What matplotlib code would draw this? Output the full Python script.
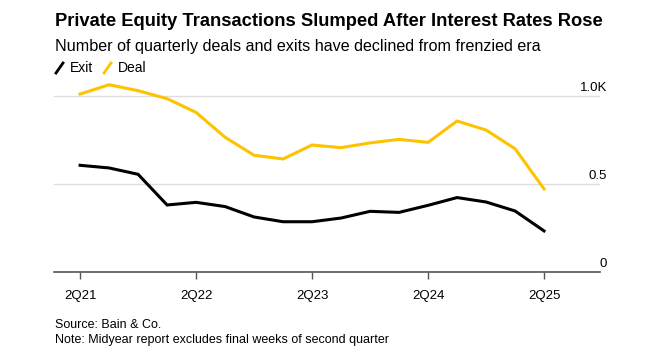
import matplotlib
matplotlib.use("Agg")
import matplotlib.pyplot as plt
from matplotlib.lines import Line2D
from matplotlib.transforms import blended_transform_factory

quarters = ["2Q21", "3Q21", "4Q21", "1Q22", "2Q22", "3Q22", "4Q22", "1Q23", "2Q23",
            "3Q23", "4Q23", "1Q24", "2Q24", "3Q24", "4Q24", "1Q25", "2Q25"]
deal = [1.009, 1.062, 1.028, 0.983, 0.905, 0.764, 0.662, 0.641, 0.720, 0.705, 0.732,
        0.752, 0.735, 0.856, 0.805, 0.699, 0.471]
exit_ = [0.605, 0.590, 0.554, 0.380, 0.395, 0.371, 0.312, 0.285, 0.285, 0.306, 0.344,
         0.338, 0.378, 0.422, 0.397, 0.346, 0.233]
xtick_labels = ["2Q21", "2Q22", "2Q23", "2Q24", "2Q25"]
ytick_vals = [0, 0.5, 1.0]
ytick_labels = ["0", "0.5", "1.0K"]

plt.rcParams['font.family'] = ['Liberation Sans', 'DejaVu Sans']

W, H = 669, 359
fig = plt.figure(figsize=(W / 100, H / 100), dpi=100)
ax_left, ax_right = 54, 600
ax_top, ax_bot = 78, 272
ax = fig.add_axes([ax_left / W, 1 - ax_bot / H, (ax_right - ax_left) / W, (ax_bot - ax_top) / H])

x = list(range(len(quarters)))
YEL = "#FDC300"
ax.plot(x, deal, color=YEL, lw=2.2, solid_joinstyle='miter')
ax.plot(x, exit_, color="black", lw=2.2, solid_joinstyle='miter')

ax.set_xlim(-0.9, 17.93)
ax.set_ylim(0, 1.1)

for v in ytick_vals[1:]:
    ax.axhline(v, color="#dddddd", lw=1, zorder=0)
trans = blended_transform_factory(fig.transFigure, ax.transData)
for v, lab in zip(ytick_vals, ytick_labels):
    ax.text(607 / W, v + 0.012, lab, transform=trans, ha='right', va='bottom',
            fontsize=9.5, color='black')

ax.set_yticks([])
ax.set_xticks([quarters.index(q) for q in xtick_labels])
ax.set_xticklabels(xtick_labels, fontsize=9.5)
ax.tick_params(axis='x', length=5, width=1, color='#555555', pad=8)
for s in ['top', 'right', 'left']:
    ax.spines[s].set_visible(False)
ax.spines['bottom'].set_color('#555555')
ax.spines['bottom'].set_linewidth(1.2)

fig.text(55 / W, 1 - 22 / H, "Private Equity Transactions Slumped After Interest Rates Rose",
         fontsize=13.2, fontweight='bold', va='center', ha='left')
fig.text(55 / W, 1 - 46 / H, "Number of quarterly deals and exits have declined from frenzied era",
         fontsize=11.6, va='center', ha='left')

# legend
ly = 1 - 68 / H
fig.add_artist(Line2D([56 / W, 63 / W], [ly - 5 / H, ly + 5 / H], color='black', lw=2))
fig.text(70 / W, ly, "Exit", fontsize=10, va='center', ha='left')
fig.add_artist(Line2D([104 / W, 111 / W], [ly - 5 / H, ly + 5 / H], color=YEL, lw=2))
fig.text(118 / W, ly, "Deal", fontsize=10, va='center', ha='left')

fig.text(55 / W, 1 - 325 / H, "Source: Bain & Co.", fontsize=9, va='center', ha='left')
fig.text(55 / W, 1 - 340 / H, "Note: Midyear report excludes final weeks of second quarter",
         fontsize=9, va='center', ha='left')

fig.savefig("out.png", dpi=100)
